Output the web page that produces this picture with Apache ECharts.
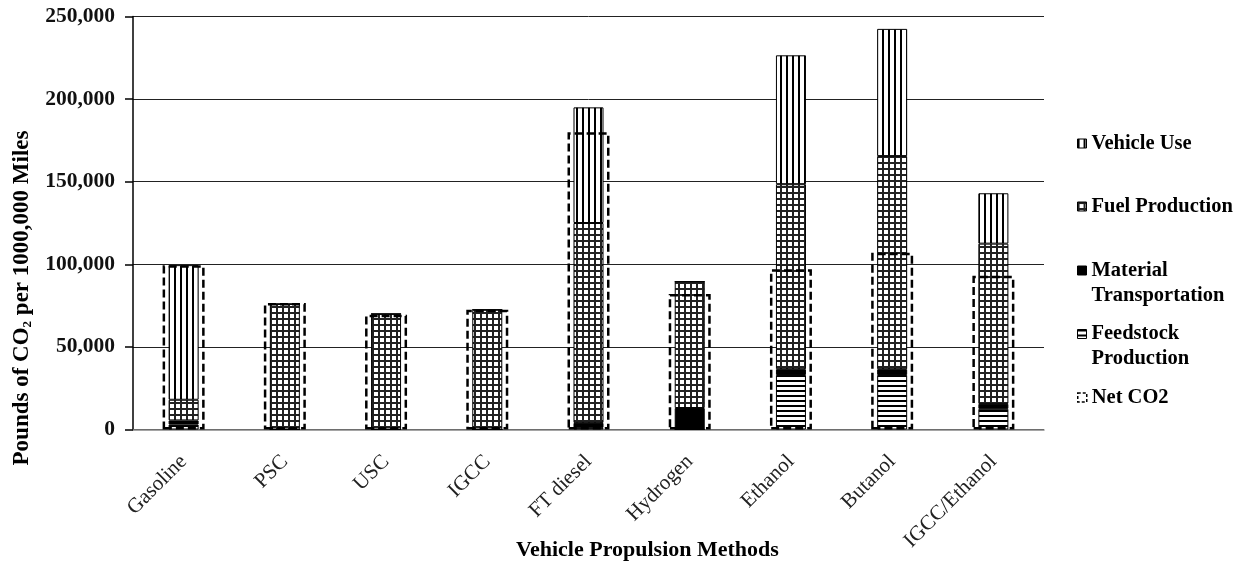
<!DOCTYPE html>
<html>
<head>
<meta charset="utf-8">
<script src="https://cdn.jsdelivr.net/npm/echarts@6/dist/echarts.min.js"></script>
<style>
  html, body { margin: 0; padding: 0; background: #fff; }
  #char { width: 1239px; height: 565px; }
</style>
</head>
<body>
<div id="char"></div>
<script>
var categories = ['Gasoline', 'PSC', 'USC', 'IGCC', 'FT diesel', 'Hydrogen', 'Ethanol', 'Butanol', 'IGCC/Ethanol'];
var feedstock  = [3000, 0, 0, 0, 1000, 0, 33000, 33000, 12500];
var material   = [2500, 0, 0, 0, 3000, 13000, 3500, 3500, 3000];
var fuelProd   = [12500, 76000, 70000, 72500, 121000, 76500, 112000, 129000, 97000];
var vehicleUse = [81500, 0, 0, 0, 70000, 0, 78000, 77000, 30500];
var netCO2     = [99500, 76500, 69500, 72500, 180000, 82000, 97000, 107000, 93000];

// small canvases used as fill patterns
function makePattern(w, h, draw) {
    var c = document.createElement('canvas');
    c.width = w;
    c.height = h;
    var ctx = c.getContext('2d');
    ctx.fillStyle = '#fff';
    ctx.fillRect(0, 0, w, h);
    ctx.fillStyle = '#000';
    draw(ctx);
    return { image: c, repeat: 'repeat' };
}
var vertStripes = makePattern(6, 6, function (ctx) { ctx.fillRect(0, 0, 2, 6); });
var gridCells = makePattern(6, 6, function (ctx) {
    ctx.fillStyle = '#222';
    ctx.fillRect(0, 0, 2, 6);
    ctx.fillRect(0, 0, 6, 2);
});
var horzStripes = makePattern(5, 5, function (ctx) { ctx.fillRect(0, 0, 5, 2); });

var dom = document.getElementById("char");
var myChart = echarts.init(dom);

var fontFam = '"Liberation Serif", "Times New Roman", serif';

// one legend per entry so each can sit at its own height
function legendAt(name, top, twoLines, iconStyle) {
    return {
        data: [{name: name, itemStyle: iconStyle || {borderColor: '#000', borderWidth: 1}}],
        orient: 'vertical',
        left: 1072,
        top: top,
        icon: 'rect',
        itemWidth: 9,
        itemHeight: 9,
        itemGap: 0,
        formatter: function (n) { return twoLines ? '\n' + n.replace(' ', '\n') : n; },
        textStyle: {
            fontFamily: fontFam,
            fontWeight: 'bold',
            fontSize: 20.5,
            lineHeight: 25,
            color: '#000'
        }
    };
}

var barStyle = function (c) {
    return { color: c, borderColor: '#000', borderWidth: 1 };
};

option = {
    animation: false,
    grid: {
        left: 133,
        right: 195,
        top: 16.5,
        bottom: 135.5,
        outerBoundsMode: 'none',
        containLabel: false
    },
    legend: [
        legendAt('Vehicle Use', 126, false),
        legendAt('Fuel Production', 189, false),
        legendAt('Material Transportation', 228, true),
        legendAt('Feedstock Production', 291.5, true),
        legendAt('Net CO2', 380, false, {borderColor: '#000', borderWidth: 1.5, borderType: [3, 2], color: '#fff'})
    ],
    xAxis: [{
        type: 'category',
        data: categories,
        name: 'Vehicle Propulsion Methods',
        nameLocation: 'middle',
        nameGap: 110,
        nameMoveOverlap: false,
        nameTextStyle: {
            fontFamily: fontFam,
            fontWeight: 'bold',
            fontSize: 22,
            color: '#000',
            padding: [0, 0, 0, 118]
        },
        axisLine: {lineStyle: {color: '#888', width: 1.5}},
        axisTick: {length: 7, lineStyle: {color: '#888', width: 1.5}},
        axisLabel: {
            rotate: 45,
            margin: 29,
            fontFamily: fontFam,
            fontSize: 21,
            color: '#222'
        }
    }, {
        type: 'category',
        data: categories,
        show: false
    }],
    yAxis: {
        type: 'value',
        min: 0,
        max: 250000,
        interval: 50000,
        name: 'Pounds of CO{sub|2} per 1000,000 Miles',
        nameLocation: 'middle',
        nameGap: 99,
        nameMoveOverlap: false,
        nameTextStyle: {
            fontFamily: fontFam,
            fontWeight: 'bold',
            fontSize: 23,
            color: '#000',
            padding: [0, 150, 0, 0],
            rich: {
                sub: {
                    fontFamily: fontFam,
                    fontWeight: 'bold',
                    fontSize: 13,
                    padding: [10, 0, 0, 0],
                    color: '#000'
                }
            }
        },
        axisLine: {show: true, lineStyle: {color: '#000', width: 1.5}},
        axisTick: {show: true, length: 8, lineStyle: {color: '#000', width: 1.5}},
        axisLabel: {
            margin: 18,
            fontFamily: fontFam,
            fontWeight: 'bold',
            fontSize: 21.5,
            color: '#111',
            formatter: function (v) { return v.toLocaleString('en-US'); }
        },
        splitLine: {lineStyle: {color: '#222', width: 1}}
    },
    series: [
        {
            name: 'Feedstock Production',
            type: 'bar',
            stack: 'co2',
            barWidth: 30,
            itemStyle: barStyle(horzStripes),
            data: feedstock
        },
        {
            name: 'Material Transportation',
            type: 'bar',
            stack: 'co2',
            barWidth: 30,
            itemStyle: barStyle('#000'),
            data: material
        },
        {
            name: 'Fuel Production',
            type: 'bar',
            stack: 'co2',
            barWidth: 30,
            itemStyle: barStyle(gridCells),
            data: fuelProd
        },
        {
            name: 'Vehicle Use',
            type: 'bar',
            stack: 'co2',
            barWidth: 30,
            itemStyle: barStyle(vertStripes),
            data: vehicleUse
        },
        {
            name: 'Net CO2',
            type: 'bar',
            xAxisIndex: 1,
            barWidth: 42,
            z: 5,
            itemStyle: {
                color: 'rgba(0,0,0,0)',
                borderColor: '#000',
                borderWidth: 2.5,
                borderType: [8, 4]
            },
            data: netCO2
        }
    ]
};
myChart.setOption(option);
</script>
</body>
</html>
